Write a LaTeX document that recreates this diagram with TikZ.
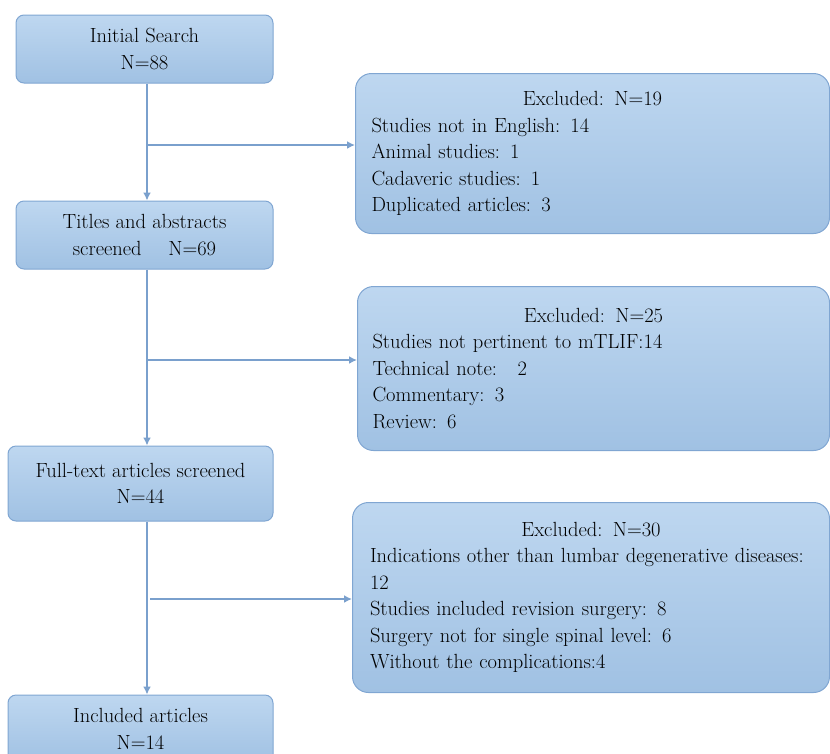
\documentclass[tikz,border=0pt]{standalone}
\usepackage{tikz,xcolor}
\usetikzlibrary{arrows.meta, positioning, shapes.geometric}
\definecolor{boxtop}{RGB}{190,215,240}
\definecolor{boxbottom}{RGB}{160,193,227}
\definecolor{boxline}{RGB}{128,166,210}
\definecolor{flowline}{RGB}{122,160,205}

\begin{document}
\begin{tikzpicture}[x=1pt, y=-1pt,
		base/.style = {draw=boxline, line width=1pt, top color=boxtop, bottom color=boxbottom, font=\fontsize{20.5}{26.5}\selectfont} ,
		stage/.style = {rectangle, base, rounded corners=8pt, align=center, inner sep=0pt},
		excl/.style = {rectangle, base, rounded corners=16pt, align=left, inner sep=0pt, text width=442pt},
		flow/.style = {draw=flowline, line width=2pt, -{Latex[length=8pt,width=8pt]}}
		]
		\useasboundingbox (0,0) rectangle (830,753);
		\coordinate (spine) at (147,0);

		\node (search) [stage, minimum width=257pt, minimum height=68pt] at (144.5,49) {Initial Search\\N=88};
		\node (titles) [stage, minimum width=257pt, minimum height=68pt, below=117pt of search] {Titles and abstracts\\screened\quad\ N=69};
		\node (fulltext) [stage, minimum width=265pt, minimum height=75pt, below=176pt of titles, xshift=-4pt] {Full-text articles screened\\N=44};
		\node (included) [stage, minimum width=265pt, minimum height=68pt, below=173pt of fulltext] {Included articles\\N=14};

		\node (exA) [excl, minimum width=474pt, minimum height=160pt, anchor=north west] at (355,73) {\centering Excluded: N=19\par\raggedright
			Studies not in English: 14\\Animal studies: 1\\Cadaveric studies: 1\\Duplicated articles: 3};
		\node (exB) [excl, minimum width=472pt, minimum height=164pt, anchor=north west] at (357,286) {\centering Excluded: N=25\par\raggedright
			Studies not pertinent to mTLIF:14\\Technical note:\quad 2\\Commentary: 3\\Review: 6};
		\node (exC) [excl, minimum width=477pt, minimum height=190pt, anchor=north west] at (352,502) {\centering Excluded: N=30\par\raggedright
			Indications other than lumbar degenerative diseases:\\12\\Studies included revision surgery: 8\\Surgery not for single spinal level: 6\\Without the complications:4};

		\coordinate (jA) at (147,145);
		\coordinate (jB) at (147,360);
		\coordinate (jC) at (150,599);

		\draw[flow] (search.south -| spine) -- (titles.north -| spine);
		\draw[flow] (titles.south -| spine) -- (fulltext.north -| spine);
		\draw[flow] (fulltext.south -| spine) -- (included.north -| spine);
		\draw[flow] (jA) -- (jA -| exA.west);
		\draw[flow] (jB) -- (jB -| exB.west);
		\draw[flow] (jC) -- (jC -| exC.west);
	\end{tikzpicture}
\end{document}
